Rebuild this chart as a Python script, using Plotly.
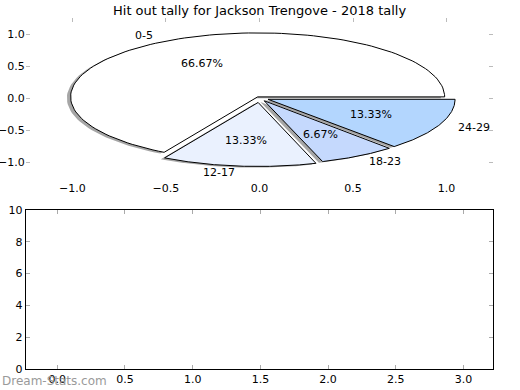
import numpy as np
import plotly.graph_objects as go

# ---- data ----
title = "Hit out tally for Jackson Trengove - 2018 tally"
labels = ["0-5", "12-17", "18-23", "24-29"]
counts = [10, 2, 1, 2]
explode = [0.02, 0.07, 0.05, 0.05]
colors = ["#ffffff", "#eaf1fe", "#c5d9fd", "#b3d6fe"]
pie_ticks = [-1.0, -0.5, 0.0, 0.5, 1.0]
bottom_xticks = [0.0, 0.5, 1.0, 1.5, 2.0, 2.5, 3.0]
bottom_yticks = [0, 2, 4, 6, 8, 10]

W, H = 520, 390
FONT = "DejaVu Sans"

fig = go.Figure()

total = float(sum(counts))
fracs = [c / total for c in counts]
starts = np.cumsum([0] + fracs[:-1]) * 360.0

wedges = []
for lab, f, s, e, col in zip(labels, fracs, starts, explode, colors):
    t1, t2 = s, s + f * 360.0
    mid = np.deg2rad((t1 + t2) / 2)
    cx, cy = e * np.cos(mid), e * np.sin(mid)
    th = np.deg2rad(np.linspace(t1, t2, 120))
    xs = np.concatenate([[cx], cx + np.cos(th), [cx]])
    ys = np.concatenate([[cy], cy + np.sin(th), [cy]])
    wedges.append((lab, f, mid, cx, cy, xs, ys, col))

# shadows
for lab, f, mid, cx, cy, xs, ys, col in wedges:
    fig.add_trace(go.Scatter(x=xs - 0.02, y=ys - 0.02, mode="lines", fill="toself",
                             fillcolor="rgba(77,77,77,0.5)", line=dict(width=0),
                             hoverinfo="skip", showlegend=False, xaxis="x", yaxis="y"))
# wedges
for lab, f, mid, cx, cy, xs, ys, col in wedges:
    fig.add_trace(go.Scatter(x=xs, y=ys, mode="lines", fill="toself", fillcolor=col,
                             line=dict(color="black", width=1), name=lab,
                             showlegend=False, xaxis="x", yaxis="y"))

annotations = []
for lab, f, mid, cx, cy, xs, ys, col in wedges:
    lx, ly = cx + 1.1 * np.cos(mid), cy + 1.1 * np.sin(mid)
    annotations.append(dict(x=lx, y=ly, xref="x", yref="y", text=lab, showarrow=False,
                            xanchor="left" if lx > 0 else "right", yanchor="middle",
                            font=dict(family=FONT, size=11, color="black")))
    px, py = cx + 0.6 * np.cos(mid), cy + 0.6 * np.sin(mid)
    annotations.append(dict(x=px, y=py, xref="x", yref="y", text=f"{f*100:.2f}%",
                            showarrow=False, xanchor="center", yanchor="middle",
                            font=dict(family=FONT, size=11, color="black")))

# empty bottom axes
fig.add_trace(go.Scatter(x=[None], y=[None], mode="markers", showlegend=False,
                         xaxis="x2", yaxis="y2"))

annotations.append(dict(x=0.0, y=1 - 381 / H, xref="paper", yref="paper",
                        text="Dream-Stats.com", showarrow=False, xanchor="left",
                        yanchor="middle", font=dict(family=FONT, size=12, color="#9a9a9a")))
annotations.append(dict(x=259 / W, y=1 - 10 / H, xref="paper", yref="paper",
                        text=title, showarrow=False, xanchor="center", yanchor="middle",
                        font=dict(family=FONT, size=13, color="black")))

xdom = [25.7 / W, 493.3 / W]
tickfont = dict(family=FONT, size=11, color="black")

fig.update_layout(
    width=W, height=H, margin=dict(l=0, r=0, t=0, b=0, autoexpand=False),
    paper_bgcolor="white", plot_bgcolor="white",
    annotations=annotations,
    xaxis=dict(domain=xdom, anchor="y", range=[-1.25, 1.25], tickvals=pie_ticks,
               tickformat=".1f", ticks="", showgrid=False, zeroline=False,
               showline=False, tickfont=tickfont, automargin=False, ticklabelstandoff=2),
    xaxis3=dict(overlaying="x", anchor="y", side="top", range=[-1.25, 1.25],
                tickvals=pie_ticks, ticks="inside", ticklen=4, tickcolor="#bbbbbb",
                showticklabels=False, showgrid=False, zeroline=False, showline=False,
                automargin=False),
    yaxis=dict(domain=[1 - 178 / H, 1 - 18 / H], anchor="x", range=[-1.25, 1.25],
               tickvals=pie_ticks, tickformat=".1f", ticks="inside", ticklen=4,
               tickcolor="#bbbbbb", mirror="ticks", showline=False, showgrid=False,
               zeroline=False, tickfont=tickfont, automargin=False),
    xaxis2=dict(domain=xdom, anchor="y2", range=[-0.233, 3.22], tickvals=bottom_xticks,
                tickformat=".1f", ticks="inside", ticklen=4, tickcolor="#aaaaaa",
                showline=True, linecolor="black", linewidth=1, mirror="ticks",
                showgrid=False, zeroline=False, tickfont=tickfont, automargin=False),
    yaxis2=dict(domain=[1 - 369 / H, 1 - 210 / H], anchor="x2", range=[0, 10],
                tickvals=bottom_yticks, ticks="inside", ticklen=4, tickcolor="#aaaaaa",
                showline=True, linecolor="black", linewidth=1, mirror="ticks",
                showgrid=False, zeroline=False, tickfont=tickfont, automargin=False),
)
# dummy trace on xaxis3 so it renders
fig.add_trace(go.Scatter(x=[None], y=[None], xaxis="x3", yaxis="y", showlegend=False))

fig.write_html("out.html", config={"displayModeBar": False},
               post_script="document.body.style.margin='0';document.body.style.overflow='hidden';")
